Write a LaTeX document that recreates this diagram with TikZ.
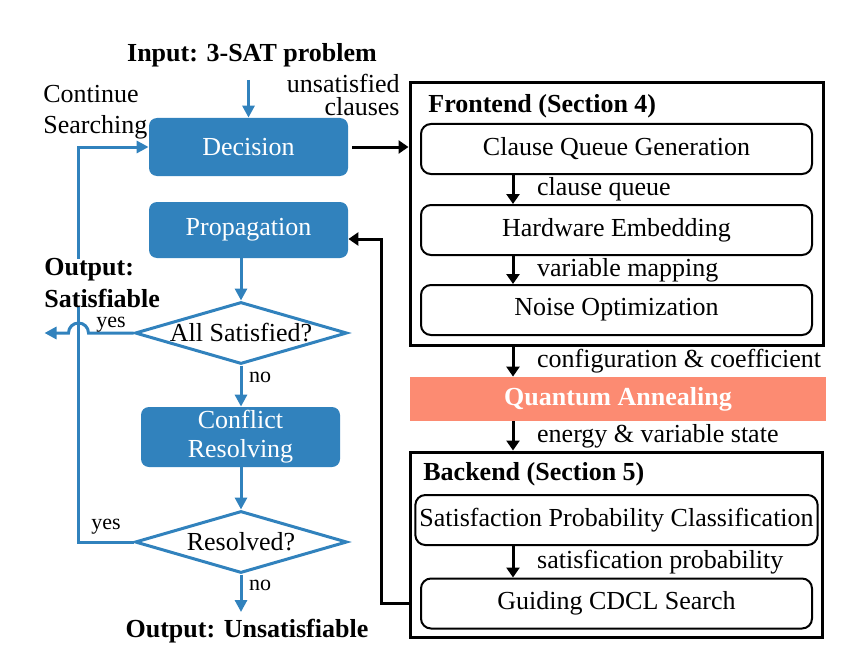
\documentclass[tikz,border=0pt]{standalone}
\usepackage{fontspec}
\setmainfont{Liberation Serif}
\usetikzlibrary{arrows.meta,shapes.geometric}

\definecolor{flowblue}{RGB}{49,130,189}
\definecolor{qasalmon}{RGB}{252,139,114}

\newcommand{\bodysize}{\fontsize{13pt}{15.6pt}\selectfont}
\newcommand{\smallsize}{\fontsize{11pt}{13pt}\selectfont}

\tikzset{
    flowbox/.style={fill=flowblue, text=white, rounded corners=4pt, minimum width=99.5pt, align=center, inner sep=1pt},
    flowcheck/.style={diamond, draw=flowblue, line width=1.5pt, aspect=3.3, inner sep=0pt, minimum width=106pt, minimum height=31pt},
    flowarrow/.style={draw=flowblue, line width=1.5pt, -{Triangle[length=6pt,width=6pt]}},
    blkarrow/.style={line width=1.5pt, -{Triangle[length=5pt,width=6.5pt]}},
    outerbox/.style={draw, line width=1.5pt},
    stagebox/.style={draw, line width=1pt, rounded corners=5pt, minimum width=195.5pt, minimum height=25pt, inner sep=2pt},
    boxtitle/.style={font=\bodysize\bfseries, anchor=west, inner sep=0pt},
    edgetext/.style={anchor=west, xshift=8pt},
    choice/.style={font=\smallsize, text=black},
}

\begin{document}
\begin{tikzpicture}[x=0.5pt, y=-0.5pt, font=\bodysize]
    \useasboundingbox (0,0) rectangle (856,658);
    % search loop
    \node[font=\bodysize\bfseries] (input) at (252,55) {Input: 3-SAT problem};
    \node[flowbox, minimum height=29pt] (decision) at (248.5,147) {Decision};
    \node[flowbox, minimum height=28pt] (propagation) at (248.5,230) {Propagation};
    \node[flowcheck] (allsat) at (241,333) {All Satisfied?};
    \node[flowbox, minimum height=30pt] (conflict) at (240.5,437) {Conflict\\[-1pt]Resolving};
    \node[flowcheck] (resolved) at (241,542) {Resolved?};
    \node[font=\bodysize\bfseries] (unsat) at (247,631) {Output: Unsatisfiable};
    \node[anchor=west, align=left, inner sep=0pt] (continue) at (43,112) {Continue\\Searching};
    \node[anchor=east, align=right, inner sep=0pt] (unsatcl) at (400,95) {unsatisfied\\[-4pt]clauses};

    \draw[flowarrow, shorten <=3pt] (decision.north |- input.south) -- (decision.north);
    \draw[flowarrow] (allsat.north |- propagation.south) -- (allsat.north);
    \draw[flowarrow] (allsat.south) -- node[choice, anchor=west, pos=0.3]{no} (allsat.south |- conflict.north);
    \draw[flowarrow] (resolved.north |- conflict.south) -- (resolved.north);
    \draw[flowarrow] (resolved.south) -- node[choice, anchor=west, pos=0.28]{no} (resolved.south |- unsat.north);
    \draw[flowarrow] (resolved.west) -- node[choice, above]{yes} ++(-55,0) |- (decision.west);
    \draw[flowarrow] (allsat.west) -- node[choice, above, inner sep=0pt, yshift=-0.6pt]{yes} ++(-45,0) arc[start angle=0, end angle=180, radius=5pt] -- ++(-24,0);
    \node[anchor=west, align=left, fill=white, inner xsep=1pt, inner ysep=0pt, font=\bodysize\bfseries] (satout) at (42,283) {Output:\\Satisfiable};

    % frontend, annealer, backend
    \node[outerbox, minimum width=206.5pt, minimum height=131pt] (frontend) at (616.5,214) {};
    \node[boxtitle] (fetitle) at (428,106) {Frontend (Section 4)};
    \node[stagebox] (cqg) at (616.5,149) {Clause Queue Generation};
    \node[stagebox] (hwe) at (616.5,230) {Hardware Embedding};
    \node[stagebox] (noise) at (616.5,310) {Noise Optimization};
    \node[fill=qasalmon, text=white, font=\bodysize\bfseries, minimum width=208pt, minimum height=22pt] (qa) at (618,399) {Quantum Annealing};
    \node[outerbox, minimum width=206pt, minimum height=92.5pt] (backend) at (616,544.5) {};
    \node[boxtitle] (betitle) at (423,474) {Backend (Section 5)};
    \node[stagebox] (spc) at (616.5,520) {Satisfaction Probability Classification};
    \node[stagebox] (cdcl) at (616.5,603.5) {Guiding CDCL Search};
    \coordinate (stem) at (513,0);

    \draw[blkarrow, shorten <=2pt] (decision.east) -- (decision.east -| frontend.west);
    \draw[blkarrow] (stem |- cqg.south) -- node[edgetext]{clause queue} (stem |- hwe.north);
    \draw[blkarrow] (stem |- hwe.south) -- node[edgetext]{variable mapping} (stem |- noise.north);
    \draw[blkarrow] (stem |- frontend.south) -- node[edgetext]{configuration \& coefficient} (stem |- qa.north);
    \draw[blkarrow] (stem |- qa.south) -- node[edgetext]{energy \& variable state} (stem |- backend.north);
    \draw[blkarrow] (stem |- spc.south) -- node[edgetext]{satisfication probability} (stem |- cdcl.north);
    \draw[blkarrow] (backend.west |- cdcl) -- ++(-27,0) |- ([yshift=-4.5pt]propagation.east);
\end{tikzpicture}
\end{document}
